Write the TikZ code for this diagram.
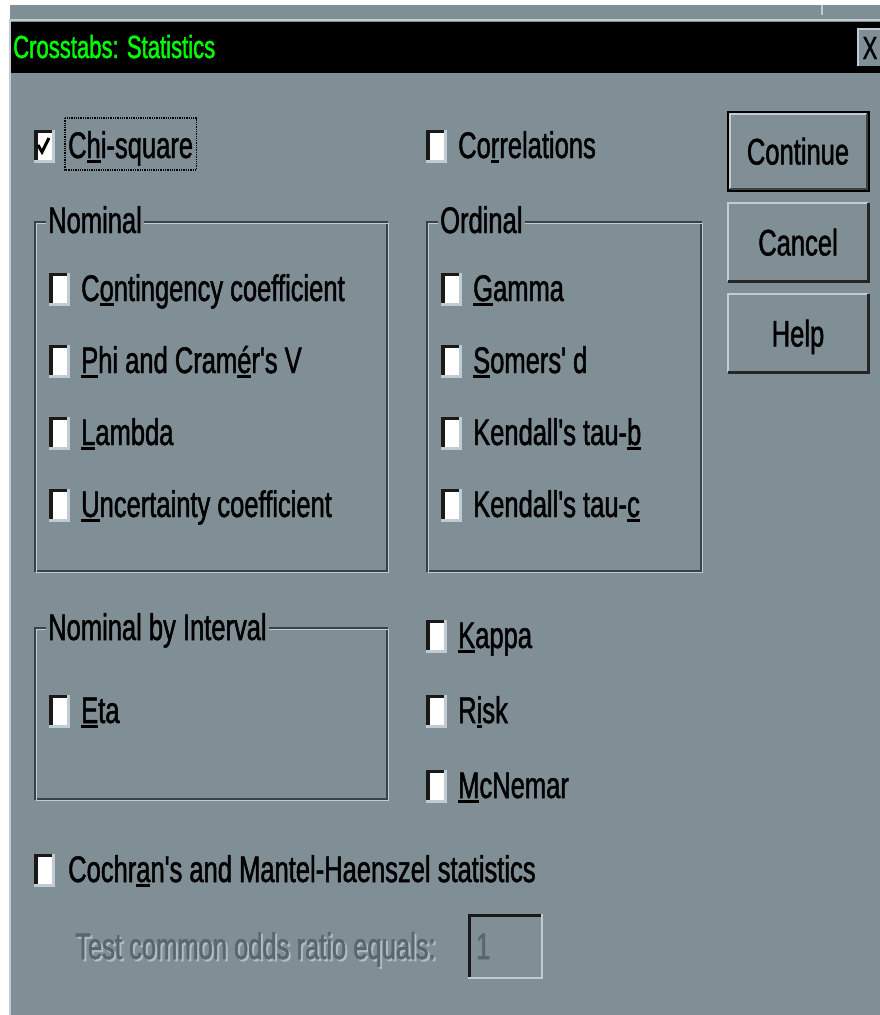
\documentclass[tikz,border=0pt]{standalone}
\usepackage{fontspec}
\newfontfamily\dlgfont[FakeStretch=0.69,FakeBold=1.3]{Liberation Sans}
\usetikzlibrary{positioning}

\definecolor{dlgbg}{RGB}{128,142,150}
\definecolor{dlglight}{RGB}{192,203,210}
\definecolor{dlgdark}{RGB}{58,66,71}
\definecolor{titlegreen}{RGB}{0,255,0}
\definecolor{disdark}{RGB}{88,102,110}
\definecolor{dislight}{RGB}{175,188,196}

% access key underline
\newcommand\acc[1]{\sbox0{#1}\rlap{\rule[-4.5pt]{\wd0}{2.5pt}}\usebox0}

\begin{document}
\begin{tikzpicture}[x=1pt, y=-1pt,
        lbl/.style={font={\dlgfont\fontsize{37}{40}\selectfont}, anchor=base west, inner sep=0pt},
        box/.style={fill=white, minimum width=17pt, minimum height=30pt, inner sep=0pt},
        sunk/.style={line width=3.5pt, draw=black!90},
        lit/.style={line width=3pt, draw=dlglight},
        shade/.style={line width=3pt, draw=dlgdark},
        etchdark/.style={draw=dlgdark, line width=1.5pt},
        etchlight/.style={draw=dlglight, line width=1.5pt},
        grouptitle/.style={lbl, fill=dlgbg, inner xsep=2pt},
        btn/.style={font={\dlgfont\fontsize{37}{40}\selectfont}, minimum width=140pt, minimum height=78pt,
            inner sep=0pt, text height=27pt, text depth=0pt, fill=dlgbg},
        focus/.style={draw=black, densely dotted, line width=1.3pt}
    ]
    \useasboundingbox (0,0) rectangle (880,1015);

    % Window
    \fill[white] (0,0) rectangle (880,1015);
    \fill[dlgbg] (10,5) rectangle (880,1015);
    \draw[dlglight, line width=2pt] (10,1015) -- (10,20) -- (880,20);
    \draw[dlglight, line width=1.5pt] (822,5) -- (822,15);

    % Title bar
    \fill[black] (11,22) rectangle (880,73);
    \node[font={\dlgfont\fontsize{32}{34}\selectfont}, text=titlegreen, anchor=base west, inner sep=0pt]
        (title) at (13,58) {Crosstabs: Statistics};
    \node[btn, minimum width=24pt, minimum height=37pt, text height=23pt,
        font={\dlgfont\fontsize{32}{34}\selectfont}] (close) at (870,47.5) {X};
    \draw[lit, line width=2pt] (close.south west) |- (close.north east);

    % Check boxes
    \foreach \nm/\x/\y in {chi/33/145, corr/425/145,
            cont/48/288, phi/48/360, lam/48/432, unc/48/504,
            gam/440/288, som/440/360, taub/440/432, tauc/440/504,
            eta/48/710, kap/425/635, risk/425/710, mcn/425/785, coch/33/869} {
        \node[box] (\nm) at (\x+10,\y) {};
        \draw[sunk] ([xshift=1.75pt]\nm.south west) |- ([yshift=-1.75pt]\nm.north east);
        \draw[lit] ([yshift=-1.5pt]\nm.south west) -| ([xshift=1.5pt]\nm.north east);
    }
    \draw[line width=3pt, line join=miter] ([shift={(-5,0)}]chi.center) -- ([shift={(-1,7)}]chi.center)
        -- ([shift={(6,-7)}]chi.center);

    % Top row
    \node[lbl] (chilbl) at (68,158) {C\acc{h}i-square};
    \draw[focus] ([shift={(-3,-13)}]chilbl.north west) rectangle ([shift={(3,4)}]chilbl.south east);
    \node[lbl] (corrlbl) at (458,158) {Co\acc{r}relations};

    % Nominal
    \draw[etchdark] (35,222) rectangle (387,571);
    \draw[etchlight] (36.5,223.5) rectangle (388.5,572.5);
    \node[grouptitle] (nominal) at (46,233) {Nominal};
    \node[lbl] (contlbl) at (81,301) {C\acc{o}ntingency coefficient};
    \node[lbl] (philbl) at (81,373) {\acc{P}hi and Cram\acc{é}r's V};
    \node[lbl] (lamlbl) at (81,445) {\acc{L}ambda};
    \node[lbl] (unclbl) at (81,517) {\acc{U}ncertainty coefficient};

    % Ordinal
    \draw[etchdark] (427,222) rectangle (701,571);
    \draw[etchlight] (428.5,223.5) rectangle (702.5,572.5);
    \node[grouptitle] (ordinal) at (438,233) {Ordinal};
    \node[lbl] (gamlbl) at (473,301) {\acc{G}amma};
    \node[lbl] (somlbl) at (473,373) {\acc{S}omers' d};
    \node[lbl] (taublbl) at (473,445) {Kendall's tau-\acc{b}};
    \node[lbl] (tauclbl) at (473,517) {Kendall's tau-\acc{c}};

    % Nominal by Interval
    \draw[etchdark] (35,628) rectangle (387,799);
    \draw[etchlight] (36.5,629.5) rectangle (388.5,800.5);
    \node[grouptitle] (nbi) at (46,640) {Nominal by Interval};
    \node[lbl] (etalbl) at (81,723) {\acc{E}ta};

    % Right column
    \node[lbl] (kaplbl) at (458,648) {\acc{K}appa};
    \node[lbl] (risklbl) at (458,723) {R\acc{i}sk};
    \node[lbl] (mcnlbl) at (458,798) {\acc{M}cNemar};

    % Cochran
    \node[lbl] (cochlbl) at (68,882) {Cochr\acc{a}n's and Mantel-Haenszel statistics};
    \node[lbl, text=dislight] at (77,961) {Test common odds ratio equals:};
    \node[lbl, text=disdark] (odds) at (75,959) {Test common odds ratio equals:};
    \node[minimum width=74pt, minimum height=64pt, inner sep=0pt] (ratio) at (505,946) {};
    \draw[sunk, line width=3pt] ([xshift=1.5pt]ratio.south west) |- ([yshift=-1.5pt]ratio.north east);
    \draw[lit, line width=2.5pt] (ratio.south west) -| (ratio.north east);
    \node[lbl, text=disdark] (ratioval) at (476,959) {1};

    % Buttons
    \node[btn, draw=black, line width=3pt] (continue) at (798,151) {Continue};
    \draw[lit, line width=2pt] ([shift={(3,-3)}]continue.south west) |- ([shift={(-3,3)}]continue.north east);
    \draw[shade, line width=2pt] ([shift={(3,-3)}]continue.south west) -| ([shift={(-3,3)}]continue.north east);
    \node[btn] (cancel) at (798,242) {Cancel};
    \draw[lit, line width=2.5pt] (cancel.south west) |- (cancel.north east);
    \draw[shade, line width=3pt, draw=black!85] (cancel.south west) -| (cancel.north east);
    \node[btn] (help) at (798,333) {Help};
    \draw[lit, line width=2.5pt] (help.south west) |- (help.north east);
    \draw[shade, line width=3pt, draw=black!85] (help.south west) -| (help.north east);
\end{tikzpicture}
\end{document}
